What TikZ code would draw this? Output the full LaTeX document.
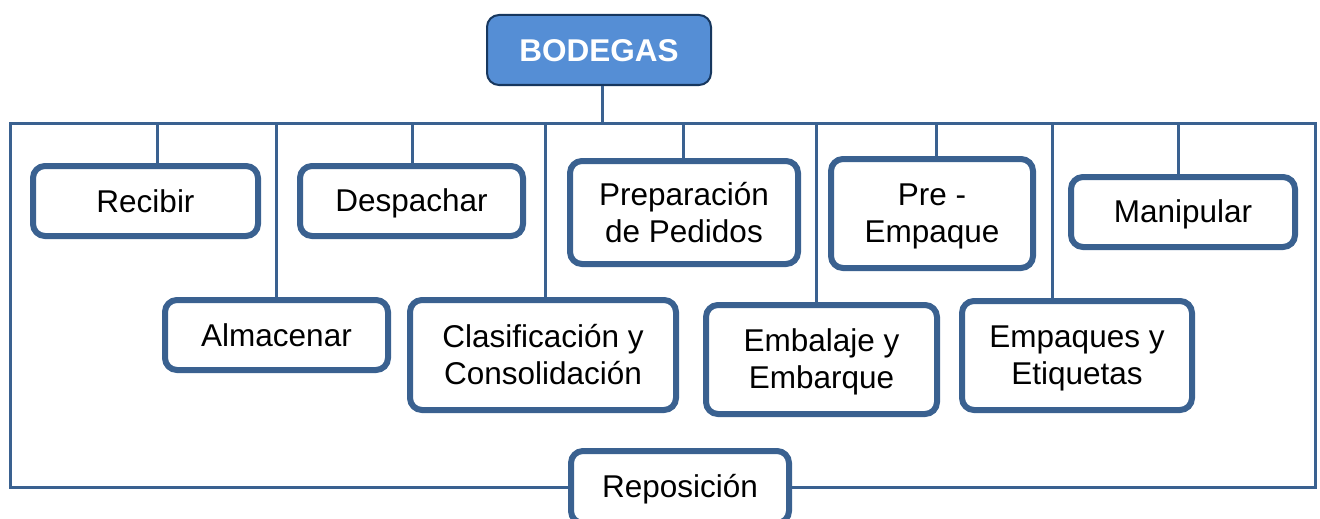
\documentclass[tikz,border=0pt]{standalone}
\usepackage{fontspec}
\setmainfont{Liberation Sans}
\definecolor{lineblue}{HTML}{3A6190}
\definecolor{bodfill}{HTML}{558ED5}
\definecolor{bodline}{HTML}{17375E}
\newcommand\vstrut{\rule[-0.184em]{0pt}{1.084em}}
\begin{document}
\begin{tikzpicture}[x=1pt,y=-1pt,
  box/.style={draw=lineblue, line width=6pt, rounded corners=12pt, fill=white,
    inner sep=0pt, align=center, text=black, font=\fontsize{31.5}{37}\selectfont},
  topbox/.style={draw=bodline, line width=2pt, rounded corners=12pt, fill=bodfill,
    inner sep=0pt, align=center, text=white, font=\fontsize{31.5}{37}\selectfont\bfseries},
  conn/.style={draw=lineblue, line width=3pt, line join=miter},
  ]
\useasboundingbox (0,0) rectangle (1320,519);
\clip (0,0) rectangle (1320,519);

% nodes
\node[topbox, minimum width=224pt, minimum height=70pt] (bod) at (599,50) {\vstrut BODEGAS};

\node[box, minimum width=225pt, minimum height=70pt] (rec) at (145.5,201) {\vstrut Recibir};
\node[box, minimum width=223pt, minimum height=70pt] (des) at (411.5,201) {\vstrut Despachar};
\node[box, minimum width=228pt, minimum height=103pt] (pre) at (684,212.5) {\vstrut Preparación\\\vstrut de Pedidos};
\node[box, minimum width=202pt, minimum height=109pt] (pem) at (932,213.5) {\vstrut Pre -\\\vstrut Empaque};
\node[box, minimum width=224pt, minimum height=70pt] (man) at (1183,212) {\vstrut Manipular};

\node[box, minimum width=223pt, minimum height=70pt] (alm) at (276.5,335) {\vstrut Almacenar};
\node[box, minimum width=266pt, minimum height=110pt] (cla) at (543,355) {\vstrut Clasificación y\\\vstrut Consolidación};
\node[box, minimum width=231pt, minimum height=109pt] (emb) at (821.5,359.5) {\vstrut Embalaje y\\\vstrut Embarque};
\node[box, minimum width=230pt, minimum height=109pt] (eti) at (1077,355.5) {\vstrut Empaques y\\\vstrut Etiquetas};

\node[box, minimum width=218pt, minimum height=72pt] (rep) at (680,487) {\vstrut Reposición};

% frame coordinates
\coordinate (TL) at (10,123);
\coordinate (TR) at (1315,123);
\coordinate (t0) at (602,123);
\coordinate (trec) at (157,123);
\coordinate (tdes) at (412,123);
\coordinate (tpre) at (683,123);
\coordinate (tpem) at (936,123);
\coordinate (tman) at (1178,123);
\coordinate (talm) at (276,123);
\coordinate (tcla) at (545,123);
\coordinate (temb) at (816,123);
\coordinate (teti) at (1052,123);

% connectors
\draw[conn] (bod.south -| t0) -- (t0);
\draw[conn] (rep.west) -| (TL) -- (TR) |- (rep.east);
\draw[conn] (trec) -- (trec |- rec.north);
\draw[conn] (tdes) -- (tdes |- des.north);
\draw[conn] (tpre) -- (tpre |- pre.north);
\draw[conn] (tpem) -- (tpem |- pem.north);
\draw[conn] (tman) -- (tman |- man.north);
\draw[conn] (talm) -- (talm |- alm.north);
\draw[conn] (tcla) -- (tcla |- cla.north);
\draw[conn] (temb) -- (temb |- emb.north);
\draw[conn] (teti) -- (teti |- eti.north);
\end{tikzpicture}
\end{document}
